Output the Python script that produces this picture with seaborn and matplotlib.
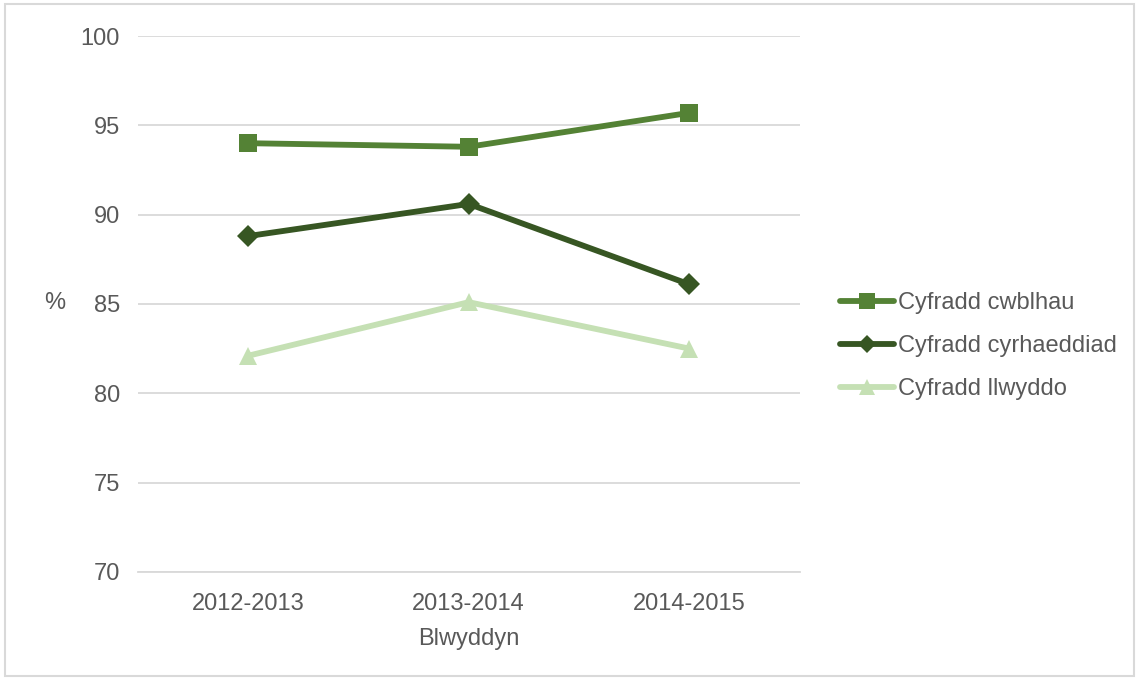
import pandas as pd
import seaborn as sns
import matplotlib.pyplot as plt
from matplotlib.patches import Rectangle

# Data
years = ['2012-2013', '2013-2014', '2014-2015']
series_names = ['Cyfradd cwblhau', 'Cyfradd cyrhaeddiad', 'Cyfradd llwyddo']
cwblhau = [94.0, 93.8, 95.7]
cyrhaeddiad = [88.8, 90.6, 86.1]
llwyddo = [82.1, 85.1, 82.5]

colors = ['#548235', '#375623', '#C5E0B4']
text_color = '#595959'
fs = 17

df = pd.DataFrame({
    'Blwyddyn': years * 3,
    'Gwerth': cwblhau + cyrhaeddiad + llwyddo,
    'Cyfres': [s for s in series_names for _ in years],
})

sns.set_style('white')
plt.rcParams['font.family'] = ['Liberation Sans', 'DejaVu Sans']

fig = plt.figure(figsize=(11.39, 6.8), dpi=100)
ax = fig.add_axes([0.121, 0.159, 0.581, 0.788])

sns.lineplot(data=df, x='Blwyddyn', y='Gwerth', hue='Cyfres', style='Cyfres',
             palette=colors, markers=['s', 'D', '^'], dashes=False,
             linewidth=4.2, markersize=12, markeredgewidth=0,
             sort=False, ax=ax)

# marker sizes per series (diamond looks smaller in the original)
for line, ms in zip(ax.lines, [12.5, 11, 13]):
    line.set_markersize(ms)

ax.set_xlim(-0.5, 2.5)
ax.set_ylim(70, 100)
ax.set_yticks(range(70, 101, 5))
ax.grid(axis='y', color='#D9D9D9', linewidth=1.3)
ax.set_axisbelow(True)
for side in ['top', 'right', 'left']:
    ax.spines[side].set_visible(False)
ax.spines['bottom'].set_color('#D9D9D9')
ax.spines['bottom'].set_linewidth(1.3)
ax.tick_params(axis='y', length=0, labelsize=fs, colors=text_color, pad=13)
ax.tick_params(axis='x', length=0, labelsize=fs, colors=text_color, pad=15)

ax.set_xlabel('Blwyddyn', fontsize=fs, color=text_color)
ax.xaxis.set_label_coords(0.5, -0.104)
ax.set_ylabel('%', fontsize=fs, color=text_color, rotation=0, va='center', ha='center')
ax.yaxis.set_label_coords(-0.125, 0.502)

leg = ax.legend(loc='center left', bbox_to_anchor=(0.727, 0.491),
                bbox_transform=fig.transFigure, frameon=False,
                fontsize=fs, handlelength=2.3, handletextpad=0.15,
                labelspacing=0.88, borderpad=0)
for t in leg.get_texts():
    t.set_color(text_color)
for h, ms in zip(leg.legend_handles, [11, 9, 11]):
    h.set_markersize(ms)

fig.patches.append(Rectangle((0.004, 0.006), 0.992, 0.988, transform=fig.transFigure,
                             fill=False, edgecolor='#D9D9D9', linewidth=1.5))

fig.savefig('out.png', dpi=100)
